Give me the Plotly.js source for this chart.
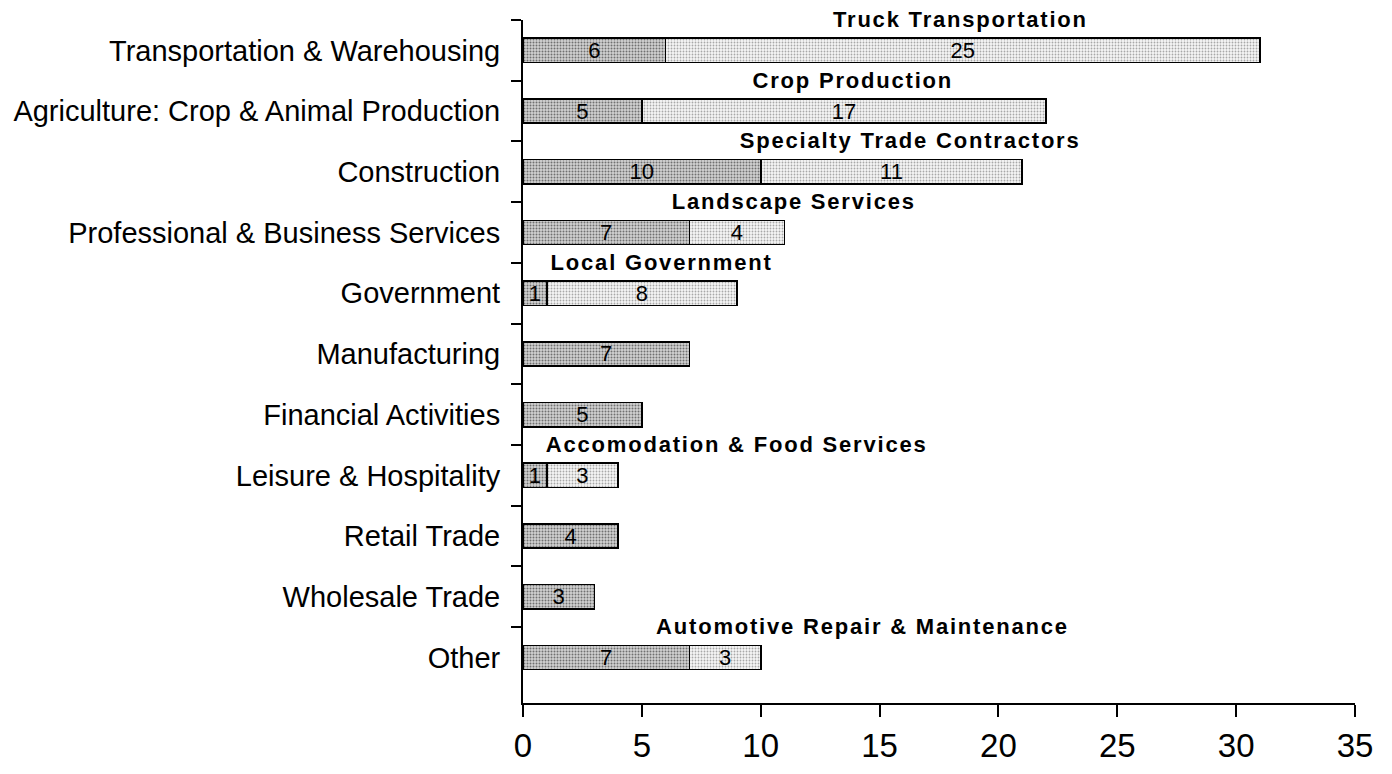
<!DOCTYPE html>
<html>
<head>
<meta charset="utf-8">
<script src="https://cdn.plot.ly/plotly-3.0.1.min.js"></script>
<style>
html,body{margin:0;padding:0;background:#fff;}
#chart{width:1392px;height:774px;}
#chart .annotation-text{letter-spacing:1.8px;}
</style>
</head>
<body>
<div id="chart"></div>
<script>
const categories = ["Transportation & Warehousing","Agriculture: Crop & Animal Production","Construction","Professional & Business Services","Government","Manufacturing","Financial Activities","Leisure & Hospitality","Retail Trade","Wholesale Trade","Other"];
const industryValues = [6,5,10,7,1,7,5,1,4,3,7];
const subIndustryValues = [25,17,11,4,8,null,null,3,null,null,3];
const subIndustryNames = ["Truck Transportation","Crop Production","Specialty Trade Contractors","Landscape Services","Local Government",null,null,"Accomodation & Food Services",null,null,"Automotive Repair & Maintenance"];
const xTicks = [0,5,10,15,20,25,30,35];

// label centres (data units) along the x axis
const labelCenters = [18.4,13.9,16.3,11.4,5.85,null,null,9.0,null,null,14.3];

const barCommon = {
  type: 'bar', orientation: 'h', y: categories, width: 0.4,
  textposition: 'inside', insidetextanchor: 'middle', textangle: 0,
  constraintext: 'none', cliponaxis: false,
  textfont: {family: 'Liberation Sans, Arial, sans-serif', size: 22, color: '#000'},
  hoverinfo: 'x+y'
};

const traces = [
  Object.assign({}, barCommon, {
    x: industryValues, text: industryValues.map(String),
    marker: {color: '#c4c4c4', line: {color: '#000', width: 1.6},
      pattern: {shape: '.', fgcolor: '#707070', bgcolor: '#d2d2d2', size: 3, solidity: 0.35}}
  }),
  Object.assign({}, barCommon, {
    x: subIndustryValues, text: subIndustryValues.map(v => v == null ? '' : String(v)),
    marker: {color: '#ececec', line: {color: '#000', width: 1.6},
      pattern: {shape: '.', fgcolor: '#a8a8a8', bgcolor: '#f6f6f6', size: 3, solidity: 0.3}}
  })
];

const annotations = [];
subIndustryNames.forEach((n, i) => {
  if (!n) return;
  annotations.push({
    x: labelCenters[i], y: categories[i], xref: 'x', yref: 'y',
    text: '<b>' + n + '</b>', showarrow: false, xanchor: 'center', yanchor: 'middle',
    yshift: 31,
    font: {family: 'Liberation Sans, Arial, sans-serif', size: 22, color: '#000'}
  });
});

const layout = {
  width: 1392, height: 774,
  margin: {l: 523, r: 37, t: 20, b: 71},
  paper_bgcolor: '#fff', plot_bgcolor: '#fff',
  barmode: 'stack', showlegend: false,
  font: {family: 'Liberation Sans, Arial, sans-serif', color: '#000'},
  xaxis: {
    range: [0, 35], tickvals: xTicks, ticktext: xTicks.map(String),
    showgrid: false, zeroline: false, showline: true, linecolor: '#000', linewidth: 2,
    ticks: 'outside', ticklen: 12, tickwidth: 2, tickcolor: '#000',
    tickfont: {size: 33, color: '#000'}, fixedrange: true
  },
  yaxis: {
    type: 'category', autorange: 'reversed', categoryorder: 'array', categoryarray: categories,
    showgrid: false, zeroline: false, showline: true, linecolor: '#000', linewidth: 2,
    ticks: 'outside', tickson: 'boundaries', ticklen: 10, tickwidth: 2, tickcolor: '#000',
    tickfont: {size: 29, color: '#000'}, ticklabelstandoff: 15, fixedrange: true
  },
  annotations: annotations
};

Plotly.newPlot('chart', traces, layout, {displayModeBar: false, staticPlot: true});
</script>
</body>
</html>
